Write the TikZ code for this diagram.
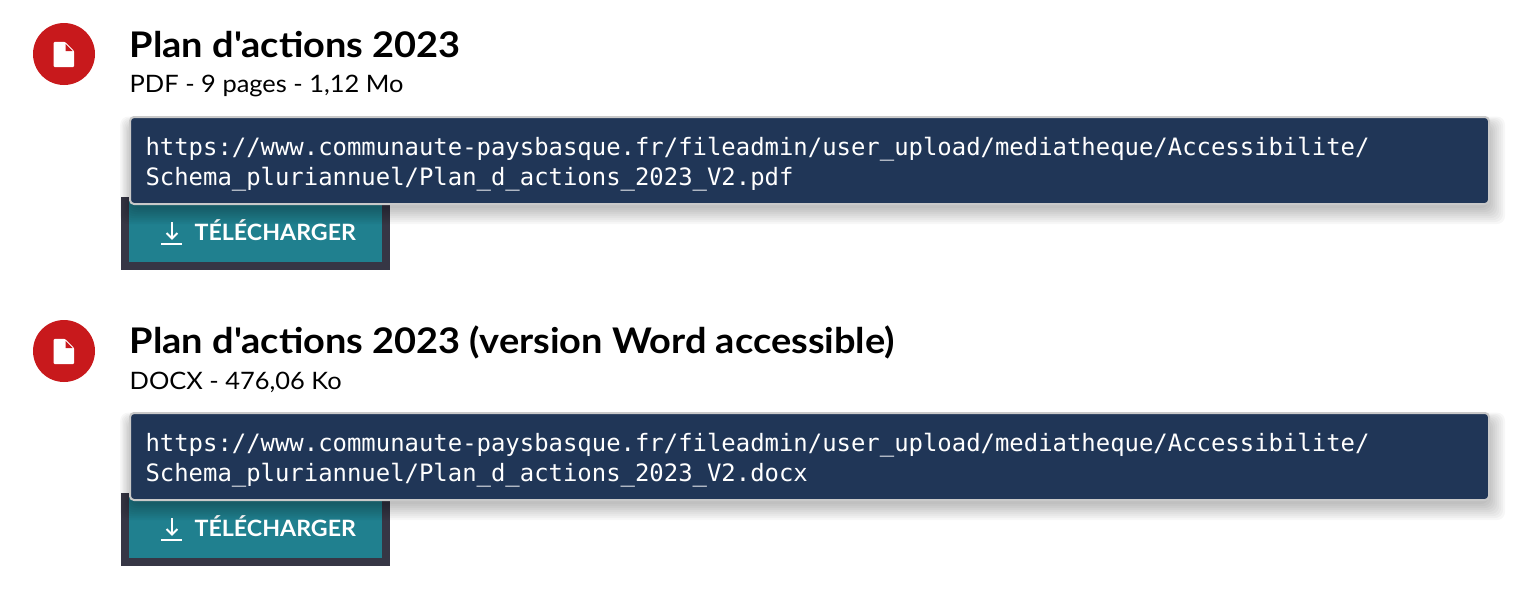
\documentclass[tikz,border=0pt]{standalone}
\usepackage{fontspec}
\newfontfamily\latof[FakeStretch=1.075]{Lato}
\newfontfamily\latosub[FakeStretch=1.06]{Lato}
\newfontfamily\latobtn[FakeStretch=1.03]{Lato}
\newfontfamily\monof{DejaVu Sans Mono}
\definecolor{redc}{HTML}{C8191C}
\definecolor{navy}{HTML}{203657}
\definecolor{teal2}{HTML}{20808F}
\definecolor{darkb}{HTML}{363645}
\definecolor{edgeg}{HTML}{C9C9C9}
\tikzset{
  titletxt/.style={anchor=base west,inner sep=0,font=\fontsize{35.3}{35}\selectfont\latof\bfseries,text=black},
  subtxt/.style={anchor=base west,inner sep=0,font=\fontsize{24}{24}\selectfont\latosub,text=black},
  urltxt/.style={anchor=base west,inner sep=0,font=\fontsize{23.92}{24}\selectfont\monof,text=white},
  btntxt/.style={anchor=base west,inner sep=0,font=\fontsize{22.5}{22.5}\selectfont\latobtn\bfseries,text=white},
}
% #1 shift, #7 extra shift of the icon and the subtitle
\newcommand{\docblock}[7]{%
 \begin{scope}[yshift=#1]
  \begin{scope}[yshift=#7]
  \fill[redc] (64,54) circle[radius=31];
  \fill[white,rounded corners=1.2] (53.7,41.8) -- (65,41.8) -- (74.2,51) -- (74.2,67.2) -- (53.7,67.2) -- cycle;
  \fill[redc] (65.6,44) -- (72.6,51) -- (65.6,51) -- cycle;
  \node[subtxt] (sub#6) at (129.5,92.3) {#3};
  \end{scope}
  \node[titletxt] (title#6) at (129.5,57.6) {#2};
  % button
  \fill[darkb] (121,197) rectangle (390,270);
  \fill[teal2] (129,197) rectangle (382,262);
  \draw[white,line width=2.4] (161,244) -- (182,244);
  \draw[white,line width=2] (172,222) -- (172,238);
  \draw[white,line width=2,line join=miter] (166.5,233) -- (172,238.5) -- (177.5,233);
  \node[btntxt] (btn#6) at (194.5,240) {TÉLÉCHARGER};
  % tooltip shadow
  \foreach \g in {14,12,10,8,6,4,2,0,-2}{
    \fill[black,opacity=0.032,rounded corners=8] (130-\g*0.7,125-\g*0.6) rectangle (1491+\g,210+\g);
  }
  \fill[navy,draw=edgeg,line width=2,rounded corners=4] (130,117) rectangle (1489,204);
  \node[urltxt] (urla#6) at (145.3,155) {#4};
  \node[urltxt] (urlb#6) at (145.3,185) {#5};
 \end{scope}}
\begin{document}
\begin{tikzpicture}[x=1pt,y=-1pt]
\useasboundingbox (0,0) rectangle (1524,590);
\docblock{0pt}{Plan d'actions 2023}{PDF - 9 pages - 1,12 Mo}{https://www.communaute-paysbasque.fr/fileadmin/user\_upload/mediatheque/Accessibilite/}{Schema\_pluriannuel/Plan\_d\_actions\_2023\_V2.pdf}{a}{0pt}
\docblock{-296pt}{Plan d'actions 2023 (version Word accessible)}{DOCX - 476,06 Ko}{https://www.communaute-paysbasque.fr/fileadmin/user\_upload/mediatheque/Accessibilite/}{Schema\_pluriannuel/Plan\_d\_actions\_2023\_V2.docx}{b}{-1pt}
\end{tikzpicture}
\end{document}
